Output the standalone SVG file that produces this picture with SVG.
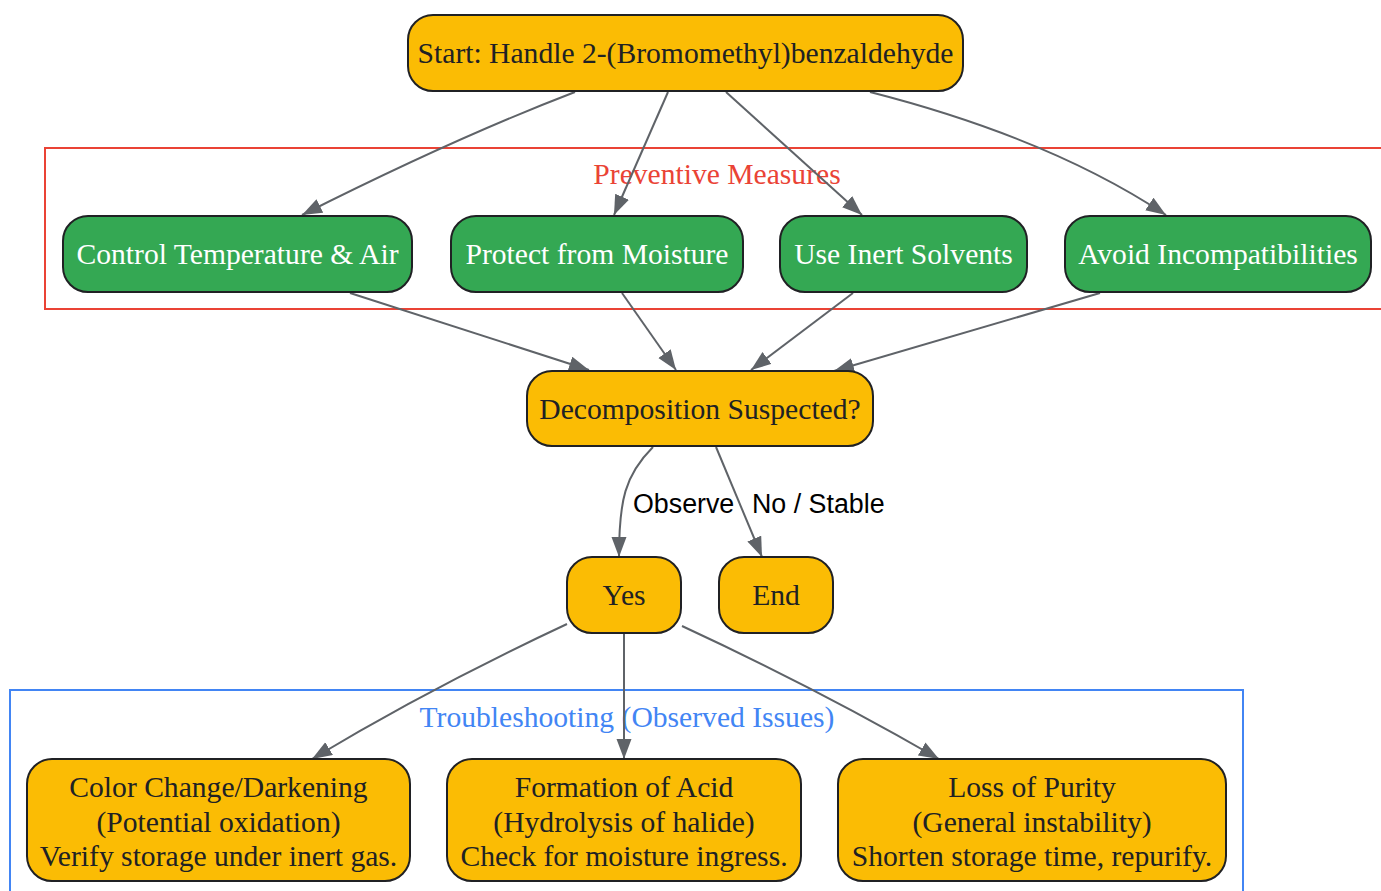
<svg xmlns="http://www.w3.org/2000/svg" width="1381" height="891" viewBox="0 0 1381 891">
<defs>
<marker id="arr" markerUnits="userSpaceOnUse" markerWidth="22" markerHeight="16" refX="20" refY="7.5" orient="auto">
<path d="M0,0 L20,7.5 L0,15 z" fill="#5f6368"/>
</marker>
<style>
.edge{fill:none;stroke:#5f6368;stroke-width:2;marker-end:url(#arr)}
.node rect{stroke:#202124;stroke-width:2}
.y rect{fill:#fbbc04}
.g rect{fill:#34a853}
.t{font-family:"Liberation Serif","Times New Roman",serif;font-size:29.6px;text-anchor:middle}
.y text{fill:#202124}
.g text{fill:#ffffff}
.el{font-family:"Liberation Sans",Arial,sans-serif;font-size:26.8px;fill:#000}
</style>
</defs>
<rect width="1381" height="891" fill="#ffffff"/>
<g id="cluster-preventive">
<rect x="45" y="148" width="1350" height="161" fill="none" stroke="#ea4335" stroke-width="2"/>
<text class="t" x="717" y="184" fill="#ea4335">Preventive Measures</text>
</g>
<g id="cluster-troubleshooting">
<rect x="10" y="690" width="1233" height="210" fill="none" stroke="#4285f4" stroke-width="2"/>
<text class="t" x="627" y="727" fill="#4285f4">Troubleshooting (Observed Issues)</text>
</g>
<g id="connectors">
<path class="edge" d="M575,92 Q455,138 302,215"/>
<path class="edge" d="M668,92 L614,215"/>
<path class="edge" d="M726,92 L862,215"/>
<path class="edge" d="M870,92 Q1050,138 1166,215"/>
<path class="edge" d="M350,293 L589,370"/>
<path class="edge" d="M622,293 L676,370"/>
<path class="edge" d="M853,293 L751,370"/>
<path class="edge" d="M1100,293 L834,371"/>
<path class="edge" d="M653,447 C625,475 619,500 619,557"/>
<path class="edge" d="M716,447 L762,557"/>
<path class="edge" d="M567,624 Q430,688 312,759"/>
<path class="edge" d="M624,634 L624,759"/>
<path class="edge" d="M682,626 Q820,690 939,759"/>
<text class="el" x="633" y="513">Observe</text>
<text class="el" x="752" y="513">No / Stable</text>
</g>
<g id="start" class="node y">
<rect x="408" y="15" width="555" height="76" rx="25"/>
<text class="t" x="685.5" y="63">Start: Handle 2-(Bromomethyl)benzaldehyde</text>
</g>
<g id="control" class="node g">
<rect x="63" y="216" width="349" height="76" rx="25"/>
<text class="t" x="237.5" y="264">Control Temperature &amp; Air</text>
</g>
<g id="protect" class="node g">
<rect x="451" y="216" width="292" height="76" rx="25"/>
<text class="t" x="597" y="264">Protect from Moisture</text>
</g>
<g id="inert" class="node g">
<rect x="780" y="216" width="247" height="76" rx="25"/>
<text class="t" x="903.5" y="264">Use Inert Solvents</text>
</g>
<g id="avoid" class="node g">
<rect x="1065" y="216" width="306" height="76" rx="25"/>
<text class="t" x="1218" y="264">Avoid Incompatibilities</text>
</g>
<g id="decomp" class="node y">
<rect x="527" y="371" width="346" height="75" rx="25"/>
<text class="t" x="700" y="419">Decomposition Suspected?</text>
</g>
<g id="yes" class="node y">
<rect x="567" y="557" width="114" height="76" rx="25"/>
<text class="t" x="624" y="605">Yes</text>
</g>
<g id="end" class="node y">
<rect x="719" y="557" width="114" height="76" rx="25"/>
<text class="t" x="776" y="605">End</text>
</g>
<g id="color" class="node y">
<rect x="27" y="759" width="383" height="122" rx="25"/>
<text class="t" x="218.5" y="797">Color Change/Darkening</text>
<text class="t" x="218.5" y="832">(Potential oxidation)</text>
<text class="t" x="218.5" y="866">Verify storage under inert gas.</text>
</g>
<g id="acid" class="node y">
<rect x="447" y="759" width="354" height="122" rx="25"/>
<text class="t" x="624" y="797">Formation of Acid</text>
<text class="t" x="624" y="832">(Hydrolysis of halide)</text>
<text class="t" x="624" y="866">Check for moisture ingress.</text>
</g>
<g id="purity" class="node y">
<rect x="838" y="759" width="388" height="122" rx="25"/>
<text class="t" x="1032" y="797">Loss of Purity</text>
<text class="t" x="1032" y="832">(General instability)</text>
<text class="t" x="1032" y="866">Shorten storage time, repurify.</text>
</g>
</svg>
